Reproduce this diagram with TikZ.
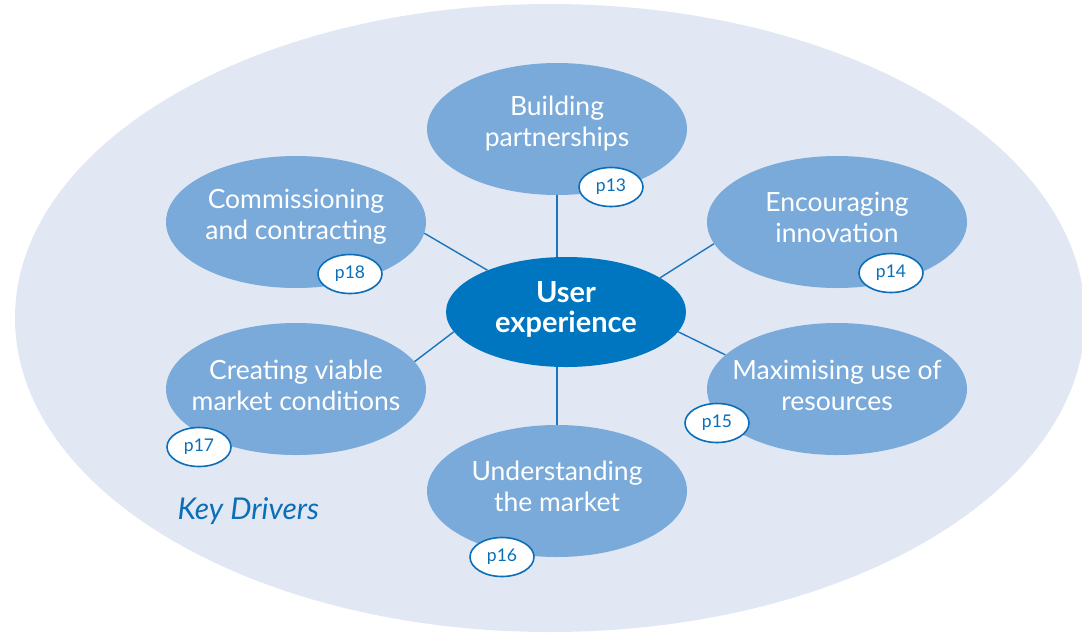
\documentclass[tikz,border=0pt]{standalone}
\usepackage{fontspec}
\setmainfont{Lato}
\usetikzlibrary{shapes.geometric}
\definecolor{bgblue}{HTML}{E1E8F4}
\definecolor{drvblue}{HTML}{7AAADA}
\definecolor{coreblue}{HTML}{0076C0}
\definecolor{linkblue}{HTML}{1A75BC}
\definecolor{tagblue}{HTML}{0A6EB8}
\begin{document}
\begin{tikzpicture}[x=1pt,y=-1pt,
  drv/.style={ellipse, fill=drvblue, draw=none, minimum width=260pt, minimum height=132pt, inner sep=0pt},
  drvtxt/.style={text=white, align=center, font=\fontsize{26.5}{31}\selectfont, inner sep=0pt},
  core/.style={ellipse, fill=coreblue, draw=none, minimum width=240pt, minimum height=110pt, inner sep=0pt},
  coretxt/.style={text=white, align=center, font=\fontsize{29}{30}\selectfont\bfseries, inner sep=0pt},
  badge/.style={ellipse, fill=white, draw=tagblue, line width=1.6pt, minimum width=64pt, minimum height=39pt,
    inner sep=0pt, text=tagblue, font=\fontsize{17.5}{19}\selectfont},
  conn/.style={draw=linkblue, line width=1.4pt}]
\useasboundingbox (0,0) rectangle (1082,633);
\clip (0,0) rectangle (1082,633);
% backdrop
\fill[bgblue] (550,318) ellipse [x radius=535, y radius=314];

% central topic
\node[core] (ux) at (566,312) {};

% driver ellipses
\node[drv] (bp) at (557,129) {};
\node[drv] (cc) at (296,222) {};
\node[drv] (ei) at (837,222) {};
\node[drv] (cv) at (296,389) {};
\node[drv] (mu) at (837,389) {};
\node[drv] (ud) at (557,491) {};

% connectors
\draw[conn] (bp.south) -- (bp.south |- ux.north);
\draw[conn] (ux.south -| ud.north) -- (ud.north);
\draw[conn] (cc.-5) -- (ux.152);
\draw[conn] (ei.190) -- (ux.20);
\draw[conn] (cv.13) -- (ux.190);
\draw[conn] (mu.163) -- (ux.-10);

% titles
\node[coretxt] (ux-t) at ([yshift=3pt]ux.center) {User\\experience};
\node[drvtxt] (bp-t) at ([yshift=5pt]bp.center) {Building\\partnerships};
\node[drvtxt] (cc-t) at ([yshift=5pt]cc.center) {Commissioning\\and contracting};
\node[drvtxt] (ei-t) at ([yshift=5pt]ei.center) {Encouraging\\innovation};
\node[drvtxt] (cv-t) at ([yshift=4pt]cv.center) {Creating viable\\market conditions};
\node[drvtxt] (mu-t) at ([yshift=4pt]mu.center) {Maximising use of\\resources};
\node[drvtxt] (ud-t) at ([yshift=5pt]ud.center) {Understanding\\the market};

% page references
\node[badge] (p13) at (611,187) {p13};
\node[badge] (p18) at (350,274) {p18};
\node[badge] (p14) at (891,273) {p14};
\node[badge] (p17) at (199,447) {p17};
\node[badge] (p15) at (717,423) {p15};
\node[badge] (p16) at (502,557) {p16};

% caption
\node[text=tagblue, font=\fontsize{30}{34}\selectfont\itshape, anchor=west] (kd) at (174,511) {Key Drivers};
\end{tikzpicture}
\end{document}
